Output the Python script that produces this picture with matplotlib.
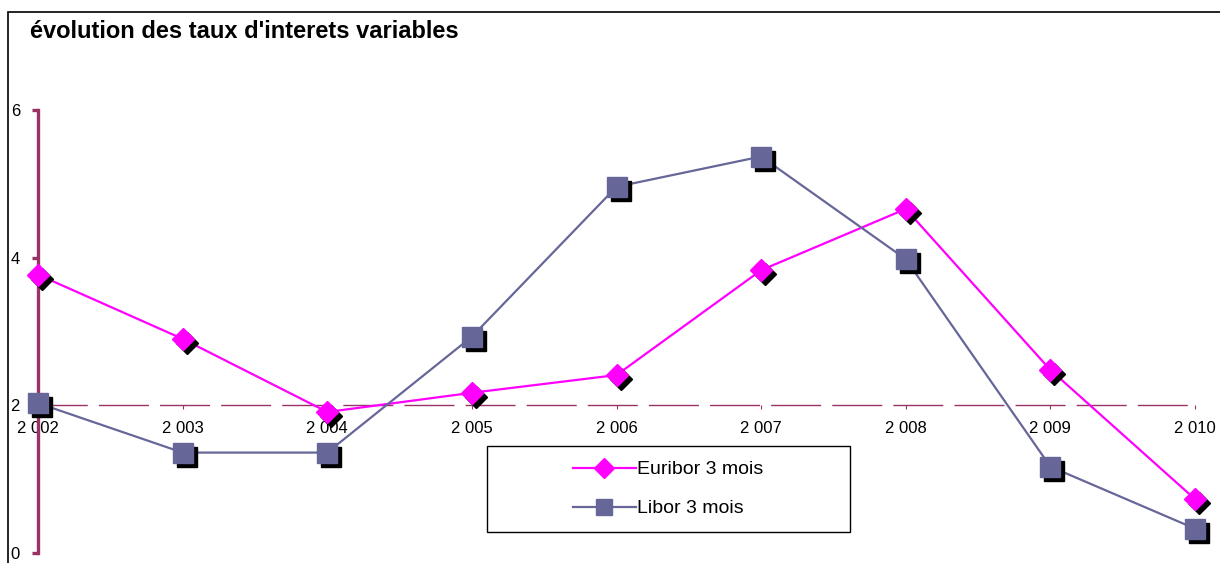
import numpy as np
import matplotlib
matplotlib.use("Agg")
import matplotlib.pyplot as plt
from matplotlib.transforms import ScaledTranslation
from matplotlib.patches import Rectangle

plt.rcParams['font.family'] = ['Liberation Sans', 'DejaVu Sans']

# data
years = [2002, 2003, 2004, 2005, 2006, 2007, 2008, 2009, 2010]
euribor = [3.77, 2.90, 1.91, 2.17, 2.41, 3.83, 4.66, 2.48, 0.73]
libor = [2.03, 1.36, 1.36, 2.93, 4.96, 5.37, 3.98, 1.17, 0.33]
y_ticks = [0, 2, 4, 6]
year_labels = [f"{y:,}".replace(",", " ") for y in years]

PINK, SLATE, PLUM = "#FF00FF", "#666699", "#993366"

fig = plt.figure(figsize=(12.2, 5.63), dpi=100)
# outer chart frame (only top/left visible in the reference)
fig.patches.append(Rectangle((8 / 1220, -0.1), 1.2, 1 - 12 / 563 + 0.1,
                             transform=fig.transFigure, fill=False,
                             edgecolor="black", lw=1.2))
ax = fig.add_axes([38 / 1220, 10 / 563, 1157 / 1220, 443 / 563])
ax.set_xlim(2002, 2010)
ax.set_ylim(0, 6)

shadow = ax.transData + ScaledTranslation(4 / 100, -4 / 100, fig.dpi_scale_trans)
for vals, col, mk, ms in [(euribor, PINK, "D", 11), (libor, SLATE, "s", 14)]:
    ax.plot(years, vals, color=col, lw=1.6, zorder=3, clip_on=False)
    ax.plot(years, vals, ls="none", marker=mk, ms=ms, color="black",
            transform=shadow, zorder=4, clip_on=False)
    ax.plot(years, vals, ls="none", marker=mk, ms=ms, color=col,
            mec=col, zorder=5, clip_on=False)

for s in ["top", "right"]:
    ax.spines[s].set_visible(False)
ax.spines["left"].set_color(PLUM)
ax.spines["left"].set_linewidth(2.4)
ax.spines["bottom"].set_position(("data", 2))
ax.spines["bottom"].set_color(PLUM)
ax.spines["bottom"].set_linewidth(1.0)
ax.spines["bottom"].set_linestyle((0, (35, 9)))

ax.set_yticks(y_ticks)
ax.tick_params(axis="y", direction="out", length=4, width=2.4, color=PLUM,
               pad=9, labelsize=12)
ax.set_xticks(years)
ax.set_xticklabels(year_labels)
ax.tick_params(axis="x", direction="out", length=3, width=0.8, color=PLUM,
               pad=8, labelsize=12)

fig.text(30 / 1220, 1 - 32 / 563, "évolution des taux d'interets variables",
         fontsize=17, fontweight="bold", va="center", ha="left")

# legend box
lx0, lx1 = (487 - 38) / 1157, (850 - 38) / 1157
ly0, ly1 = (553 - 532) / 443, (553 - 446) / 443
ax.add_patch(Rectangle((lx0, ly0), lx1 - lx0, ly1 - ly0, transform=ax.transAxes,
                       facecolor="white", edgecolor="black", lw=1, zorder=6))
h1, = ax.plot([], [], color=PINK, lw=1.6, marker="D", ms=10)
h2, = ax.plot([], [], color=SLATE, lw=1.6, marker="s", ms=11)
leg = ax.legend([h1, h2], ["Euribor 3 mois", "Libor 3 mois"], loc="center",
                bbox_to_anchor=(lx0, ly0, lx1 - lx0, ly1 - ly0), frameon=False,
                fontsize=14, handlelength=3.2, labelspacing=1.1,
                handletextpad=0.1, borderaxespad=0)
leg.set_zorder(7)

fig.savefig("out.png", dpi=100, facecolor="white")
